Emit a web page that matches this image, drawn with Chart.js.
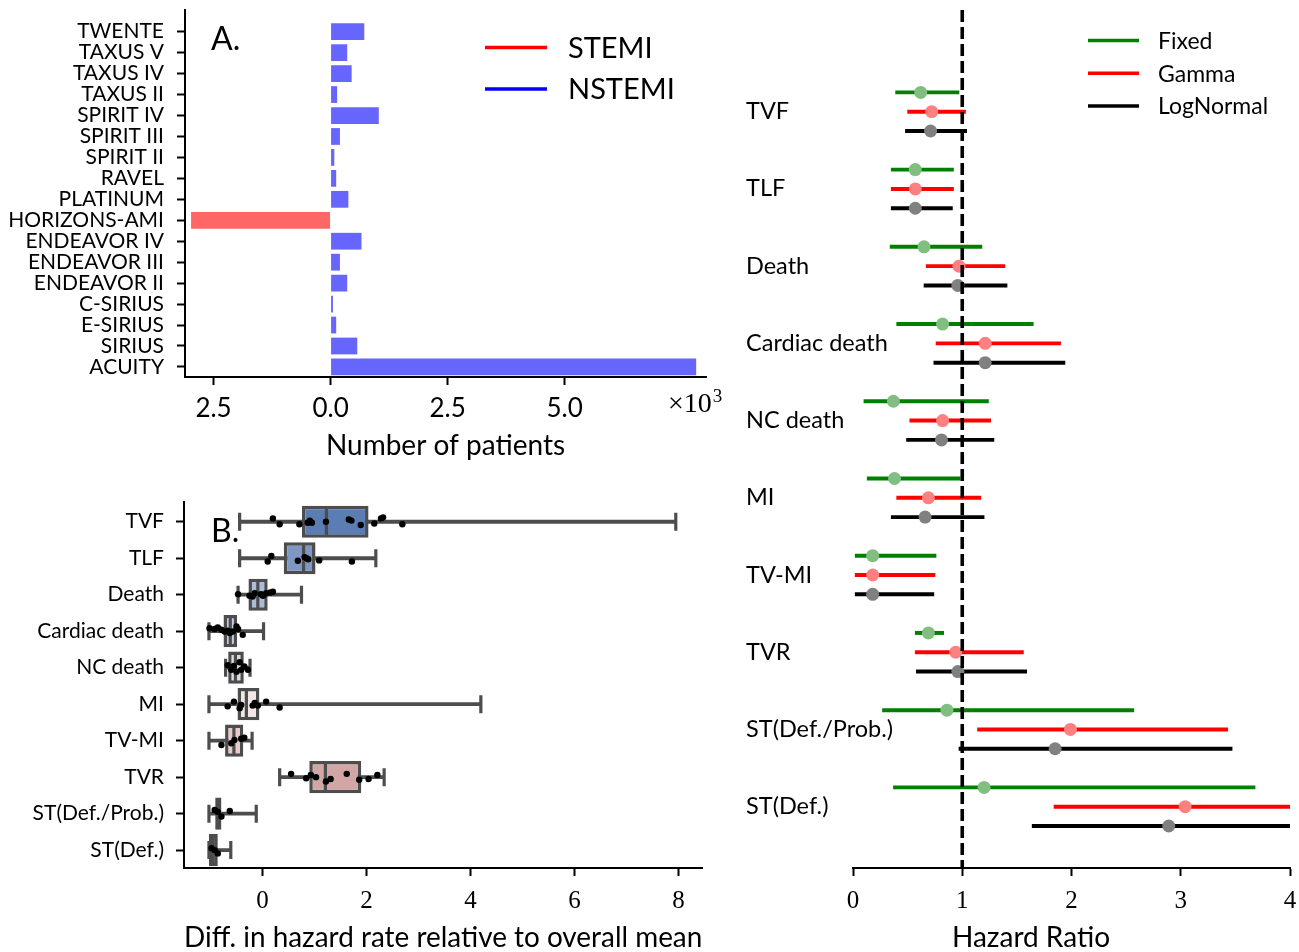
<!DOCTYPE html>
<html>
<head>
<meta charset="utf-8">
<script src="https://cdn.jsdelivr.net/npm/chart.js@4.4.1/dist/chart.umd.min.js"></script>
<style>
  html, body { margin: 0; padding: 0; background: #fff; }
  #wrap { position: relative; width: 1299px; height: 952px; overflow: hidden; }
  canvas { position: absolute; }
  #panelA { left: 0; top: 0; }
  #panelB { left: 0; top: 480px; }
  #panelC { left: 746px; top: 0; }
</style>
</head>
<body>
<div id="wrap">
  <canvas id="panelA" width="740" height="470"></canvas>
  <canvas id="panelB" width="720" height="472"></canvas>
  <canvas id="panelC" width="553" height="952"></canvas>
</div>
<script>
// ---- panel A: patients per trial
const trials = ['TWENTE', 'TAXUS V', 'TAXUS IV', 'TAXUS II', 'SPIRIT IV', 'SPIRIT III', 'SPIRIT II', 'RAVEL',
  'PLATINUM', 'HORIZONS-AMI', 'ENDEAVOR IV', 'ENDEAVOR III', 'ENDEAVOR II', 'C-SIRIUS', 'E-SIRIUS', 'SIRIUS', 'ACUITY'];
const stemiPatients  = [0, 0, 0, 0, 0, 0, 0, 0, 0, 2980, 0, 0, 0, 0, 0, 0, 0];
const nstemiPatients = [720, 355, 450, 140, 1030, 200, 80, 120, 380, 0, 660, 200, 355, 50, 120, 570, 7810];
const patientGroups = ['STEMI', 'NSTEMI'];
const patientTicks = [-2500, 0, 2500, 5000];

// ---- panel B: box plots of hazard rate differences
const outcomes = ['TVF', 'TLF', 'Death', 'Cardiac death', 'NC death', 'MI', 'TV-MI', 'TVR', 'ST(Def./Prob.)', 'ST(Def.)'];
const whiskerLow  = [-0.44, -0.44, -0.47, -1.03, -0.71, -1.03, -1.03, 0.33, -1.03, -1.03];
const quartile1   = [0.76, 0.41, -0.27, -0.75, -0.66, -0.48, -0.72, 0.90, -0.91, -1.03];
const medianDiff  = [1.23, 0.79, -0.09, -0.62, -0.52, -0.31, -0.55, 1.21, -0.85, -0.95];
const quartile3   = [2.04, 1.02, 0.10, -0.49, -0.36, -0.06, -0.37, 1.90, -0.79, -0.86];
const whiskerHigh = [7.95, 2.18, 0.75, 0.02, -0.24, 4.20, -0.20, 2.34, -0.12, -0.61];
const stripValues = [
  [0.20, 0.33, 0.71, 0.87, 0.91, 0.95, 1.22, 1.66, 1.71, 1.89, 2.15, 2.28, 2.32, 2.69],
  [0.10, 0.17, 0.68, 0.81, 0.85, 0.88, 1.09, 1.72],
  [-0.47, -0.25, -0.19, -0.15, -0.03, 0.01, 0.07, 0.15, 0.20],
  [-1.02, -0.92, -0.86, -0.79, -0.73, -0.67, -0.63, -0.57, -0.50, -0.47, -0.38],
  [-0.67, -0.60, -0.55, -0.50, -0.44, -0.41, -0.35, -0.28],
  [-0.67, -0.55, -0.44, -0.41, -0.19, -0.15, -0.09, 0.07, 0.33],
  [-0.79, -0.60, -0.54, -0.41, -0.35],
  [0.55, 0.84, 0.93, 1.03, 1.22, 1.31, 1.62, 1.86, 2.04, 2.21],
  [-0.92, -0.86, -0.79, -0.63],
  [-0.98, -0.92, -0.86]
];
const stripJitter = [
  [-0.09, 0.07, 0.07, 0.03, -0.03, 0.03, 0.00, -0.06, -0.03, 0.09, 0.05, -0.09, -0.12, 0.07],
  [0.09, -0.06, 0.07, -0.03, 0.00, 0.03, 0.06, 0.09],
  [-0.01, 0.03, 0.05, -0.04, -0.01, 0.03, -0.04, -0.06, -0.08],
  [-0.08, -0.06, -0.10, -0.04, 0.01, -0.01, 0.05, 0.01, -0.13, -0.06, 0.10],
  [-0.07, 0.06, -0.05, 0.11, -0.15, 0.06, -0.03, 0.06],
  [0.06, -0.07, 0.11, 0.02, 0.04, -0.03, 0.04, -0.07, 0.09],
  [0.12, 0.07, -0.02, -0.05, -0.08],
  [-0.09, 0.03, -0.06, 0.00, 0.12, 0.05, -0.09, 0.07, 0.05, -0.06],
  [-0.10, -0.05, 0.08, -0.07],
  [-0.05, 0.00, 0.09]
];
const diffTicks = [0, 2, 4, 6, 8];

// ---- panel C: hazard ratios per model
const models = ['Fixed', 'Gamma', 'LogNormal'];
const hrFixed      = [0.62, 0.57, 0.65, 0.82, 0.37, 0.38, 0.18, 0.69, 0.86, 1.20];
const lowFixed     = [0.39, 0.35, 0.34, 0.40, 0.10, 0.13, 0.02, 0.57, 0.27, 0.37];
const highFixed    = [0.97, 0.92, 1.18, 1.65, 1.24, 0.98, 0.76, 0.83, 2.57, 3.68];
const hrGamma      = [0.72, 0.57, 0.97, 1.21, 0.82, 0.69, 0.18, 0.94, 1.99, 3.04];
const lowGamma     = [0.50, 0.35, 0.67, 0.76, 0.52, 0.40, 0.02, 0.57, 1.14, 1.84];
const highGamma    = [1.03, 0.92, 1.39, 1.90, 1.26, 1.17, 0.75, 1.56, 3.43, 4.00];
const hrLogNormal  = [0.71, 0.57, 0.96, 1.21, 0.81, 0.66, 0.18, 0.96, 1.85, 2.89];
const lowLogNormal = [0.48, 0.35, 0.65, 0.74, 0.49, 0.35, 0.02, 0.58, 0.97, 1.64];
const highLogNormal= [1.04, 0.91, 1.41, 1.94, 1.29, 1.20, 0.74, 1.59, 3.47, 4.00];
const hrTicks = [0, 1, 2, 3, 4];
const referenceHR = 1;

// ---- styling
const SANS = 'Lato';
const SERIF = '"Liberation Serif"';
Chart.defaults.font.family = SANS;
Chart.defaults.color = '#000';

const boxColors = ['#5a7db3', '#7f97c3', '#a9bcdb', '#c2cde4', '#d9dce6', '#f2e6e6', '#e6caca', '#d3a6a6', '#c88f8f', '#bd7777'];
const boxLine = '#4d4d4d';
const modelColors = ['#008000', '#ff0000', '#000000'];
const modelDots = ['#80bf80', '#ff8080', '#808080'];
const modelOffset = [-0.25, 0, 0.25];

// fixed axis box sizes so the plot areas line up with the figure
const fixWidth = w => s => { s.width = w; s.paddingTop = 0; s.paddingBottom = 0; };
const fixHeight = h => s => { s.height = h; s.paddingLeft = 0; s.paddingRight = 0; };
const setTicks = values => s => { s.ticks = values.map(v => ({ value: v })); };
const tickGrid = { display: true, drawOnChartArea: false, drawTicks: true, tickLength: 8, tickWidth: 2, tickColor: '#000', offset: false };
const spine = { display: true, color: '#000', width: 2 };

// ---------------- panel A ----------------
const panelAText = {
  id: 'panelAText',
  afterDraw(chart) {
    const { ctx, chartArea: a } = chart;
    ctx.save();
    ctx.fillStyle = '#000';
    ctx.textBaseline = 'alphabetic';
    ctx.font = '32px ' + SANS;
    ctx.fillText('A.', a.left + 26, a.top + 40);
    const legendColors = ['#ff0000', '#0000ff'];
    patientGroups.forEach((g, k) => {
      const y = a.top + 37.5 + k * 41.5;
      ctx.strokeStyle = legendColors[k];
      ctx.lineWidth = 3.5;
      ctx.beginPath();
      ctx.moveTo(a.left + 300, y);
      ctx.lineTo(a.left + 362, y);
      ctx.stroke();
      ctx.font = '29px ' + SANS;
      ctx.textBaseline = 'middle';
      ctx.fillText(g, a.left + 383, y + 1);
    });
    ctx.textBaseline = 'alphabetic';
    ctx.font = '28px ' + SERIF;
    const x0 = a.right - 38;
    ctx.fillText('\u00d710', x0, a.bottom + 35);
    const w = ctx.measureText('\u00d710').width;
    ctx.font = '19px ' + SERIF;
    ctx.fillText('3', x0 + w + 1, a.bottom + 25);
    ctx.restore();
  }
};

new Chart(document.getElementById('panelA'), {
  type: 'bar',
  data: {
    datasets: [
      {
        label: 'NSTEMI',
        data: trials.map((t, i) => ({ y: i, x: nstemiPatients[i] })),
        backgroundColor: '#6666ff',
        grouped: false, barPercentage: 0.8, categoryPercentage: 1
      },
      {
        label: 'STEMI',
        data: trials.map((t, i) => ({ y: i, x: -stemiPatients[i] })),
        backgroundColor: '#ff6666',
        grouped: false, barPercentage: 0.8, categoryPercentage: 1
      }
    ]
  },
  options: {
    indexAxis: 'y',
    responsive: false,
    animation: false,
    events: [],
    layout: { padding: { top: 10, right: 34, left: 0, bottom: 0 } },
    plugins: { legend: { display: false }, tooltip: { enabled: false } },
    scales: {
      x: {
        type: 'linear', min: -3110, max: 8020, offset: false,
        afterBuildTicks: setTicks(patientTicks),
        afterFit: fixHeight(93),
        ticks: { callback: v => (Math.abs(v) / 1000).toFixed(1), font: { size: 26 }, padding: 8, maxRotation: 0, autoSkip: false },
        grid: tickGrid, border: spine,
        title: { display: true, text: 'Number of patients', font: { size: 28 }, padding: { top: 0, bottom: 7 } }
      },
      y: {
        type: 'linear', reverse: true, min: -1.036, max: 16.48, offset: false,
        afterBuildTicks: setTicks(trials.map((t, i) => i)),
        afterFit: fixWidth(185),
        ticks: { callback: v => trials[v], font: { size: 21 }, padding: 13, autoSkip: false },
        grid: tickGrid, border: spine
      }
    }
  },
  plugins: [panelAText]
});

// ---------------- panel B ----------------
const panelBText = {
  id: 'panelBText',
  afterDraw(chart) {
    const { ctx, chartArea: a } = chart;
    ctx.save();
    ctx.fillStyle = '#000';
    ctx.font = '32px ' + SANS;
    ctx.fillText('B.', a.left + 27, a.top + 40);
    ctx.restore();
  }
};

const stripPoints = [];
outcomes.forEach((o, i) => {
  stripValues[i].forEach((v, j) => stripPoints.push({ x: v, y: i + stripJitter[i][j] }));
});

new Chart(document.getElementById('panelB'), {
  type: 'bar',
  data: {
    datasets: [
      {
        type: 'scatter', label: 'trials', order: 0,
        data: stripPoints,
        pointRadius: 3.2, pointBackgroundColor: '#000', pointBorderWidth: 0, borderColor: '#000'
      },
      {
        type: 'scatter', label: 'caps', order: 1,
        data: outcomes.flatMap((o, i) => [{ x: whiskerLow[i], y: i }, { x: whiskerHigh[i], y: i }]),
        pointStyle: 'line', pointRotation: 90, pointRadius: 9,
        pointBorderColor: boxLine, borderColor: boxLine, pointBorderWidth: 3.2
      },
      {
        type: 'scatter', label: 'median', order: 2,
        data: outcomes.map((o, i) => ({ x: medianDiff[i], y: i })),
        pointStyle: 'line', pointRotation: 90, pointRadius: 14.5,
        pointBorderColor: boxLine, borderColor: boxLine, pointBorderWidth: 3.2
      },
      {
        type: 'bar', label: 'box', order: 3, indexAxis: 'y',
        data: outcomes.map((o, i) => ({ y: i, x: [quartile1[i], quartile3[i]] })),
        backgroundColor: boxColors, borderColor: boxLine, borderWidth: 3.5, borderSkipped: false,
        grouped: false, barPercentage: 0.88, categoryPercentage: 1
      },
      {
        type: 'bar', label: 'whisker', order: 4, indexAxis: 'y',
        data: outcomes.map((o, i) => ({ y: i, x: [whiskerLow[i], whiskerHigh[i]] })),
        backgroundColor: boxLine, borderWidth: 0,
        grouped: false, barThickness: 3.2
      }
    ]
  },
  options: {
    responsive: false,
    animation: false,
    events: [],
    layout: { padding: { top: 22, right: 15, left: 0, bottom: 0 } },
    plugins: { legend: { display: false }, tooltip: { enabled: false } },
    scales: {
      x: {
        type: 'linear', min: -1.51, max: 8.46, offset: false,
        afterBuildTicks: setTicks(diffTicks),
        afterFit: fixHeight(84),
        ticks: { font: { size: 25, family: SERIF }, padding: 10, maxRotation: 0, autoSkip: false },
        grid: tickGrid, border: spine,
        title: { display: true, text: 'Diff. in hazard rate relative to overall mean', font: { size: 28.5 }, padding: { top: 0, bottom: -3 } }
      },
      y: {
        type: 'linear', reverse: true, min: -0.54, max: 9.49, offset: false,
        afterBuildTicks: setTicks(outcomes.map((o, i) => i)),
        afterFit: fixWidth(184),
        ticks: { callback: v => outcomes[v], font: { size: 21 }, padding: 12, autoSkip: false },
        grid: tickGrid, border: spine
      }
    }
  },
  plugins: [panelBText]
});

// ---------------- panel C ----------------
const hrSeries = [
  { hr: hrFixed, low: lowFixed, high: highFixed },
  { hr: hrGamma, low: lowGamma, high: highGamma },
  { hr: hrLogNormal, low: lowLogNormal, high: highLogNormal }
];

const panelCExtras = {
  id: 'panelCExtras',
  afterDatasetsDraw(chart) {
    const { ctx, chartArea: a, scales } = chart;
    const x = scales.x.getPixelForValue(referenceHR);
    ctx.save();
    ctx.strokeStyle = '#000';
    ctx.lineWidth = 3.6;
    ctx.setLineDash([12, 5]);
    ctx.beginPath();
    ctx.moveTo(x, a.top);
    ctx.lineTo(x, a.bottom);
    ctx.stroke();
    ctx.restore();
  },
  afterDraw(chart) {
    const { ctx, chartArea: a } = chart;
    ctx.save();
    models.forEach((m, k) => {
      const y = a.top + 30.5 + k * 32.7;
      ctx.strokeStyle = modelColors[k];
      ctx.lineWidth = 3.5;
      ctx.beginPath();
      ctx.moveTo(a.right - 202, y);
      ctx.lineTo(a.right - 151, y);
      ctx.stroke();
      ctx.fillStyle = '#000';
      ctx.font = '23px ' + SANS;
      ctx.textBaseline = 'middle';
      ctx.fillText(m, a.right - 132, y + 1);
    });
    ctx.font = '28px ' + SANS;
    ctx.textAlign = 'center';
    ctx.textBaseline = 'middle';
    ctx.fillText('Hazard Ratio', a.left + 178, chart.height - 14);
    ctx.restore();
  }
};

const panelCDatasets = [];
hrSeries.forEach((s, k) => {
  panelCDatasets.push({
    type: 'scatter', label: models[k] + ' HR', order: 0,
    data: outcomes.map((o, i) => ({ x: s.hr[i], y: i + modelOffset[k] })),
    pointRadius: 6.5, pointBackgroundColor: modelDots[k], pointBorderWidth: 0, borderColor: modelDots[k]
  });
});
hrSeries.forEach((s, k) => {
  panelCDatasets.push({
    type: 'bar', label: models[k], order: 1, indexAxis: 'y',
    data: outcomes.map((o, i) => ({ y: i + modelOffset[k], x: [s.low[i], s.high[i]] })),
    backgroundColor: modelColors[k], borderWidth: 0,
    grouped: false, barThickness: 3.3
  });
});

new Chart(document.getElementById('panelC'), {
  type: 'bar',
  data: { datasets: panelCDatasets },
  options: {
    responsive: false,
    animation: false,
    events: [],
    layout: { padding: { top: 10, right: 9, left: 0, bottom: 0 } },
    plugins: { legend: { display: false }, tooltip: { enabled: false } },
    scales: {
      x: {
        type: 'linear', min: 0, max: 4, offset: false,
        afterBuildTicks: setTicks(hrTicks),
        afterFit: fixHeight(84),
        ticks: { font: { size: 25, family: SERIF }, padding: 10, maxRotation: 0, autoSkip: false },
        grid: tickGrid, border: spine
      },
      y: {
        type: 'linear', reverse: true, min: -1.317, max: 9.794, offset: false,
        afterBuildTicks: setTicks(outcomes.map((o, i) => i)),
        afterFit: fixWidth(107),
        // mirrored labels are not clipped to the axis box; negative padding puts them at the axis' left edge
        ticks: { callback: v => outcomes[v], font: { size: 23.5 }, mirror: true, padding: -107, autoSkip: false },
        grid: { display: false, offset: false }, border: { display: false }
      }
    }
  },
  plugins: [panelCExtras]
});
</script>
</body>
</html>
